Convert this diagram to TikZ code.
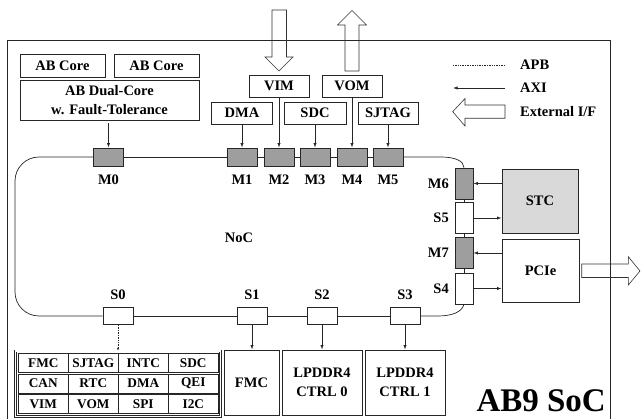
\documentclass[tikz,border=0pt]{standalone}
\usepackage{fontspec}
\setmainfont{Liberation Serif}
\usetikzlibrary{arrows.meta}
\newcommand\MyMain{\bfseries\fontsize{14.5}{18.5}\selectfont}
\newcommand\MyCell{\bfseries\fontsize{13.3}{16}\selectfont}
\newcommand\MyBig{\bfseries\fontsize{33}{36}\selectfont}
\begin{document}
\begin{tikzpicture}[x=1pt,y=-1pt,
  ln/.style={draw=black!85, line width=0.7pt},
  box/.style={ln, rectangle, inner sep=0pt, align=center, font=\MyMain},
  mport/.style={box, fill=black!38, minimum width=30pt, minimum height=18pt},
  sport/.style={box, fill=white, minimum width=30pt, minimum height=17pt},
  vmport/.style={box, fill=black!38, minimum width=18pt, minimum height=31pt},
  vsport/.style={box, fill=white, minimum width=18pt, minimum height=31pt},
  lbl/.style={font=\MyMain, inner sep=0pt},
  cell/.style={box, font=\MyCell, minimum width=50pt, minimum height=19pt},
  dbl/.style={draw=black!85, line width=0.6pt, double, double distance=1.3pt, rectangle, inner sep=0pt},
  axi/.style={draw=black!85, line width=0.7pt, -{Latex[length=4.5pt,width=3.2pt]}},
  apb/.style={draw=black!85, line width=0.7pt, densely dotted},
  hollow/.style={draw=black!80, line width=0.6pt, line join=miter}
]
\useasboundingbox (0,0) rectangle (641,419);

% SoC border
\draw[ln] (7,421) -- (7,40) -- (610,40) -- (610,421);

% AB core group
\node[box, minimum width=85pt, minimum height=23pt] (abc1) at (62.5,65.5) {AB Core};
\node[box, minimum width=85pt, minimum height=23pt] (abc2) at (156.5,65.5) {AB Core};
\node[box, minimum width=179pt, minimum height=40pt] (abd) at (109.5,100) {AB Dual-Core\\w. Fault-Tolerance};
\node[dbl, minimum width=189pt, minimum height=74pt] (abg) at (109.5,86) {};

% top IPs
\node[box, minimum width=60pt, minimum height=22pt] (VIM) at (279,86) {VIM};
\node[box, minimum width=60pt, minimum height=22pt] (VOM) at (352,86) {VOM};
\node[box, minimum width=61pt, minimum height=22pt] (DMA) at (242,113) {DMA};
\node[box, minimum width=62pt, minimum height=22pt] (SDC) at (315,113) {SDC};
\node[box, minimum width=60pt, minimum height=22pt] (SJTAG) at (388,113) {SJTAG};

% master ports on top
\node[mport] (M0) at (108.5,157) {};
\node[mport] (M1) at (242,157) {};
\node[mport] (M2) at (279,157) {};
\node[mport] (M3) at (315,157) {};
\node[mport] (M4) at (352,157) {};
\node[mport] (M5) at (388,157) {};
\node[lbl] at (108.5,180) {M0};
\node[lbl] at (242,180) {M1};
\node[lbl] at (279,180) {M2};
\node[lbl] at (315,180) {M3};
\node[lbl] at (352,180) {M4};
\node[lbl] at (388,180) {M5};

% right ports
\node[vmport] (M6) at (464,183.5) {};
\node[vsport] (S5) at (464,218) {};
\node[vmport] (M7) at (464,253) {};
\node[vsport] (S4) at (464,288.5) {};
\node[lbl, anchor=east] at (449,184) {M6};
\node[lbl, anchor=east] at (449,218) {S5};
\node[lbl, anchor=east] at (449,253) {M7};
\node[lbl, anchor=east] at (449,289) {S4};

% STC, PCIe
\node[box, fill=black!15, minimum width=76pt, minimum height=64pt] (STC) at (540,201) {STC};
\node[box, minimum width=77pt, minimum height=63pt] (PCIe) at (540.5,270.5) {PCIe};

% slave ports on bottom
\node[sport] (S0) at (118,316) {};
\node[sport] (S1) at (252,316) {};
\node[sport] (S2) at (322,316) {};
\node[sport] (S3) at (405,316) {};
\node[lbl] at (118,295) {S0};
\node[lbl] at (252,295) {S1};
\node[lbl] at (322,295) {S2};
\node[lbl] at (405,295) {S3};

% bottom IPs
\node[box, minimum width=55pt, minimum height=65pt] (FMC) at (251.5,382.5) {FMC};
\node[box, minimum width=80pt, minimum height=65pt] (LP0) at (322,382.5) {LPDDR4\\CTRL 0};
\node[box, minimum width=80pt, minimum height=65pt] (LP1) at (405,382.5) {LPDDR4\\CTRL 1};

% peripheral group
\node[dbl, minimum width=205.4pt, minimum height=65.3pt] (pg) at (118,383.75) {};
\node[cell] (c11) at (43.3,363) {FMC};
\node[cell] (c12) at (93.3,363) {SJTAG};
\node[cell] (c13) at (143.3,363) {INTC};
\node[cell] (c14) at (193.3,363) {SDC};
\node[cell] (c21) at (43.3,383.5) {CAN};
\node[cell] (c22) at (93.3,383.5) {RTC};
\node[cell] (c23) at (143.3,383.5) {DMA};
\node[cell] (c24) at (193.3,383.5) {QEI};
\node[cell] (c31) at (43.3,404) {VIM};
\node[cell] (c32) at (93.3,404) {VOM};
\node[cell] (c33) at (143.3,404) {SPI};
\node[cell] (c34) at (193.3,404) {I2C};

% NoC ring
\draw[ln, rounded corners=24pt] (M0.west) -- (15,157) -- (15,316) -- (S0.west);
\draw[ln] (M0.east) -- (M1.west);
\draw[ln] (M1.east) -- (M2.west);
\draw[ln] (M2.east) -- (M3.west);
\draw[ln] (M3.east) -- (M4.west);
\draw[ln] (M4.east) -- (M5.west);
\draw[ln] (M5.east) -- (441,157) .. controls (455,157) and (464,161) .. (M6.north);
\draw[ln] (M6.south) -- (S5.north);
\draw[ln] (S5.south) -- (M7.north);
\draw[ln] (M7.south) -- (S4.north);
\draw[ln] (S4.south) .. controls (462,312) and (452,316) .. (438,316) -- (S3.east);
\draw[ln] (S0.east) -- (S1.west);
\draw[ln] (S1.east) -- (S2.west);
\draw[ln] (S2.east) -- (S3.west);
\node[lbl] (noc) at (239,238) {NoC};

% AXI connections
\draw[axi] (abg.south -| M0.north) -- (M0.north);
\draw[axi] (DMA.south) -- (M1.north);
\draw[axi] (VIM.south) -- (M2.north);
\draw[axi] (SDC.south) -- (M3.north);
\draw[axi] (VOM.south) -- (M4.north);
\draw[axi] (SJTAG.south) -- (M5.north);
\draw[axi] (STC.west |- M6.east) -- (M6.east);
\draw[axi] (S5.east) -- (S5.east -| STC.west);
\draw[axi] (PCIe.west |- M7.east) -- (M7.east);
\draw[axi] (S4.east) -- (S4.east -| PCIe.west);
\draw[axi] (S1.south) -- (S1.south |- FMC.north);
\draw[axi] (S2.south) -- (LP0.north);
\draw[axi] (S3.south) -- (LP1.north);
\draw[apb, -{Latex[length=3pt,width=2.4pt]}] (S0.south) -- (S0.south |- pg.north);

% external interfaces
\draw[hollow] (272,10) -- (286.5,10) -- (286.5,57) -- (293,57) -- (279,71) -- (265,57) -- (272,57) -- cycle;
\draw[hollow] (345,71) -- (345,25) -- (337.5,25) -- (352,10.5) -- (366.5,25) -- (359,25) -- (359,71) -- cycle;
\draw[hollow] (581.7,264) -- (628.3,264) -- (628.3,256.7) -- (640,271) -- (628.3,285) -- (628.3,277.5) -- (581.7,277.5) -- cycle;

% legend
\coordinate (apbA) at (453,65);
\coordinate (apbB) at (505,65);
\coordinate (axiA) at (453,88);
\coordinate (axiB) at (505,88);
\draw[apb] (apbA) -- (apbB);
\draw[axi] (axiB) -- (axiA);
\draw[hollow] (452.7,111.7) -- (465,98.5) -- (465,105) -- (505,105) -- (505,118.3) -- (465,118.3) -- (465,126) -- cycle;
\node[lbl, anchor=west] (lapb) at (520,65) {APB};
\node[lbl, anchor=west] (laxi) at (520,88) {AXI};
\node[lbl, anchor=west] (lext) at (520,112) {External I/F};

% title
\node[font=\MyBig, anchor=base east, inner sep=0pt] (title) at (606,412) {AB9 SoC};
\end{tikzpicture}
\end{document}
